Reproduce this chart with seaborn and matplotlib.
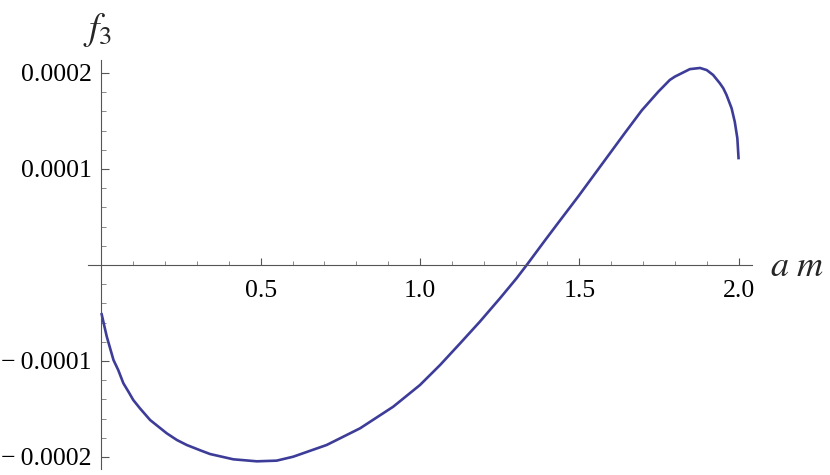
import numpy as np
import pandas as pd
import matplotlib
matplotlib.use("Agg")
import matplotlib.pyplot as plt
import seaborn as sns
from matplotlib.ticker import FixedLocator, FixedFormatter, MultipleLocator

# Data (f3 in units of 1e-4)
am_values = [0.000, 0.0085, 0.017, 0.038, 0.053, 0.069, 0.085, 0.100, 0.121, 0.153,
             0.179, 0.205, 0.237, 0.268, 0.310, 0.341, 0.414, 0.488, 0.550, 0.602,
             0.707, 0.812, 0.916, 1.000, 1.063, 1.126, 1.188, 1.251, 1.303, 1.335,
             1.392, 1.434, 1.497, 1.539, 1.591, 1.643, 1.696, 1.748, 1.784, 1.800,
             1.847, 1.879, 1.900, 1.920, 1.941, 1.952, 1.962, 1.978, 1.988, 1.996,
             2.000]
f3_values_e4 = [-0.500, -0.625, -0.747, -0.990, -1.095, -1.232, -1.320, -1.406, -1.493, -1.615,
                -1.684, -1.753, -1.823, -1.875, -1.930, -1.969, -2.024, -2.045, -2.038, -1.997,
                -1.875, -1.701, -1.476, -1.250, -1.042, -0.816, -0.590, -0.347, -0.139, 0.000,
                0.255, 0.440, 0.715, 0.905, 1.140, 1.375, 1.610, 1.805, 1.927, 1.962,
                2.040, 2.052, 2.030, 1.979, 1.893, 1.840, 1.771, 1.632, 1.490, 1.320,
                1.100]

x_ticks = [0.5, 1.0, 1.5, 2.0]
x_tick_labels = ["0.5", "1.0", "1.5", "2.0"]
y_ticks = [-0.0002, -0.0001, 0.0001, 0.0002]
y_tick_labels = ["\u2212\u20090.0002", "\u2212\u20090.0001", "0.0001", "0.0002"]

df = pd.DataFrame({"am": am_values, "f3": np.array(f3_values_e4) * 1e-4})

sns.set_style("white")
plt.rcParams["mathtext.fontset"] = "stix"
plt.rcParams["font.family"] = ["Liberation Serif", "DejaVu Serif"]

W, H = 830, 475
fig = plt.figure(figsize=(W / 100, H / 100), dpi=100)
ax = fig.add_axes([88 / W, 1 - 469 / H, (752 - 88) / W, (469 - 60) / H])

line_color = "#3d3d99"
sns.lineplot(data=df, x="am", y="f3", ax=ax, color=line_color, linewidth=1.9,
             estimator=None, sort=False)
for ln in ax.lines:
    ln.set_solid_joinstyle("round")
    ln.set_solid_capstyle("butt")

ax.set_xlim(-0.042, 2.042)
ax.set_ylim(-2.125e-4, 2.135e-4)

axis_color = "#555555"
for side in ["top", "right"]:
    ax.spines[side].set_visible(False)
ax.spines["left"].set_position(("data", 0))
ax.spines["bottom"].set_position(("data", 0))
for side in ["left", "bottom"]:
    ax.spines[side].set_color(axis_color)
    ax.spines[side].set_linewidth(0.8)

ax.xaxis.set_major_locator(FixedLocator(x_ticks))
ax.xaxis.set_major_formatter(FixedFormatter(x_tick_labels))
ax.xaxis.set_minor_locator(FixedLocator([0.1, 0.2, 0.3, 0.4, 0.6, 0.7, 0.8, 0.9,
                                         1.1, 1.2, 1.3, 1.4, 1.6, 1.7, 1.8, 1.9]))
ax.yaxis.set_major_locator(FixedLocator(y_ticks))
ax.yaxis.set_major_formatter(FixedFormatter(y_tick_labels))
ax.yaxis.set_minor_locator(MultipleLocator(0.00002))

ax.tick_params(axis="x", which="both", bottom=True, top=False)
ax.tick_params(axis="y", which="both", left=True, right=False)
ax.tick_params(axis="x", which="major", direction="in", length=5, width=0.8,
               color=axis_color, pad=11, labelsize=18.5, labelcolor="black")
ax.tick_params(axis="x", which="minor", direction="in", length=3, width=0.7,
               color="#888888")
ax.tick_params(axis="y", which="major", direction="in", length=6, width=0.8,
               color=axis_color, pad=7, labelsize=18.5, labelcolor="black")
ax.tick_params(axis="y", which="minor", direction="in", length=3.5, width=0.7,
               color="#888888")

ax.set_xlabel("")
ax.set_ylabel("")
ax.grid(False)

fig.text(83 / W, 1 - 30 / H, r"$f_3$", fontsize=27, ha="left", va="center")
fig.text(770 / W, 1 - 268 / H, r"$a\ m$", fontsize=26, ha="left", va="center")

fig.savefig("out.png", dpi=100, facecolor="white")
